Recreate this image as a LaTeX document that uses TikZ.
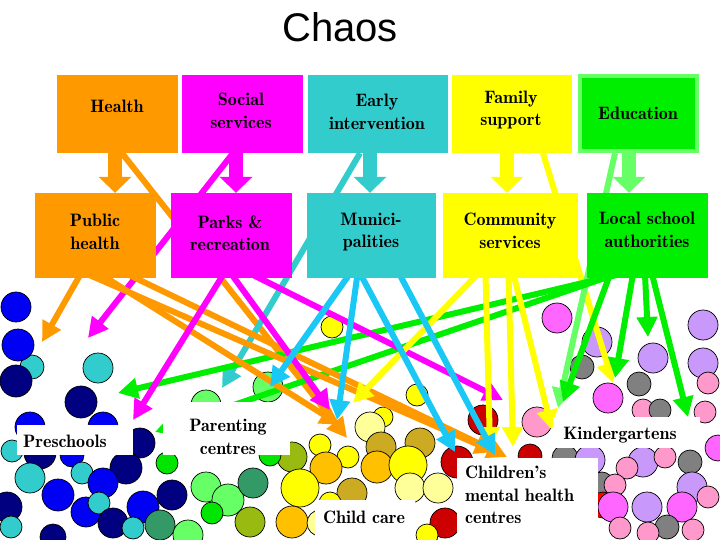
\documentclass[tikz,border=0pt]{standalone}
\usepackage{fontspec}
\newfontfamily\titlefont{Liberation Sans}
\newfontfamily\demifont{lmromandemi10-regular.otf}
\usetikzlibrary{arrows.meta}
\definecolor{cOrange}{RGB}{255,153,0}
\definecolor{cMag}{RGB}{255,0,255}
\definecolor{cTeal}{RGB}{51,204,204}
\definecolor{cCyan}{RGB}{25,200,245}
\definecolor{cYel}{RGB}{255,255,0}
\definecolor{cGreen}{RGB}{0,238,0}
\definecolor{cLGreen}{RGB}{102,255,102}
\definecolor{kBlue}{RGB}{0,0,245}
\definecolor{kNavy}{RGB}{0,0,128}
\definecolor{kTeal}{RGB}{51,204,204}
\definecolor{kDGreen}{RGB}{51,153,102}
\definecolor{kGreen}{RGB}{0,230,0}
\definecolor{kLGreen}{RGB}{102,255,102}
\definecolor{kOlive}{RGB}{153,187,17}
\definecolor{kYel}{RGB}{255,255,0}
\definecolor{kGold}{RGB}{255,192,0}
\definecolor{kDGold}{RGB}{204,170,34}
\definecolor{kLYel}{RGB}{255,255,153}
\definecolor{kDRed}{RGB}{204,0,0}
\definecolor{kRed}{RGB}{255,0,0}
\definecolor{kViolet}{RGB}{255,102,255}
\definecolor{kLav}{RGB}{200,153,250}
\definecolor{kPink}{RGB}{255,153,204}
\definecolor{kGray}{RGB}{128,128,128}
\newcommand\blob[4]{\filldraw[fill=#1,draw=black,line width=0.7pt] (#2,#3) circle[radius=#4pt];}
\begin{document}
\begin{tikzpicture}[x=1pt,y=-1pt,
  box/.style={inner sep=0pt, draw=none, minimum height=#1},
  lbl/.style={inner sep=0pt, align=center, font=\demifont\fontsize{18}{22.5}\selectfont},
  wbox/.style={fill=white, inner sep=0pt, draw=none},
  arr/.style={line width=6pt, draw=#1, -{Triangle[length=20pt,width=20pt]}},
  blk/.style={line width=14pt, draw=#1, -{Triangle[length=16pt,width=32pt]}}
]
\useasboundingbox (0,0) rectangle (720,540);
\fill[white] (0,0) rectangle (720,540);

% ---------- circles ----------
% preschools
\blob{kTeal}{32}{367}{12}
\blob{kBlue}{16}{307}{15}
\blob{kBlue}{18}{345}{16}
\blob{kNavy}{16}{381}{16}
\blob{kTeal}{98}{368}{15}
\blob{kNavy}{81}{402}{16}
\blob{kBlue}{30}{427}{15}
\blob{kBlue}{103}{427}{15}
\blob{kNavy}{140}{443}{15}
\blob{kNavy}{40}{453}{16}
\blob{kBlue}{72}{455}{12}
\blob{kTeal}{12}{451}{11}
\blob{kTeal}{30}{478}{15}
\blob{kTeal}{82}{473}{11}
\blob{kNavy}{126}{468}{16}
\blob{kBlue}{103}{483}{15}
\blob{kBlue}{58}{495}{16}
\blob{kNavy}{7}{507}{15}
\blob{kBlue}{86}{512}{15}
\blob{kTeal}{99}{503}{11}
\blob{kNavy}{172}{495}{15}
\blob{kBlue}{143}{507}{16}
\blob{kNavy}{113}{523}{15}
\blob{kTeal}{11}{527}{11}
\blob{kTeal}{133}{528}{11}
\blob{kNavy}{53}{537}{13}
\blob{kDGreen}{160}{525}{15}
% parenting
\blob{kGreen}{167}{463}{11}
\blob{kLGreen}{206}{405}{15}
\blob{kLGreen}{268}{387}{15}
\blob{kLGreen}{206}{487}{15}
\blob{kLGreen}{228}{500}{16}
\blob{kGreen}{212}{513}{11}
\blob{kLGreen}{188}{535}{15}
\blob{kDGreen}{253}{483}{15}
\blob{kOlive}{292}{457}{15}
\blob{kGreen}{270}{455}{11}
\blob{kOlive}{250}{522}{15}
% child care
\blob{kYel}{332}{327}{11}
\blob{kYel}{417}{395}{11}
\blob{kYel}{383}{417}{10}
\blob{kLYel}{370}{427}{15}
\blob{kDRed}{483}{420}{15}
\blob{kYel}{320}{445}{11}
\blob{kDGold}{381}{447}{15}
\blob{kDGold}{420}{443}{15}
\blob{kYel}{348}{457}{11}
\blob{kGold}{326}{468}{16}
\blob{kGold}{377}{467}{16}
\blob{kYel}{408}{465}{19}
\blob{kDRed}{457}{462}{16}
\blob{kDRed}{530}{456}{12}
\blob{kYel}{300}{488}{19}
\blob{kDGold}{352}{493}{15}
\blob{kLYel}{410}{488}{15}
\blob{kLYel}{438}{488}{15}
\blob{kYel}{330}{503}{11}
\blob{kGold}{292}{522}{16}
\blob{kLYel}{320}{523}{13}
\blob{kDRed}{445}{523}{15}
\blob{kYel}{427}{535}{11}
% kindergartens
\blob{kViolet}{557}{318}{15}
\blob{kGray}{582}{367}{12}
\blob{kLav}{597}{342}{15}
\blob{kLav}{653}{358}{15}
\blob{kViolet}{608}{398}{15}
\blob{kGray}{639}{384}{12}
\blob{kPink}{643}{410}{11}
\blob{kGray}{660}{410}{11}
\blob{kPink}{537}{422}{15}
\blob{kLav}{703}{325}{15}
\blob{kLav}{703}{363}{15}
\blob{kPink}{708}{383}{11}
\blob{kPink}{705}{412}{11}
\blob{kViolet}{718}{448}{13}
\blob{kGray}{565}{458}{13}
\blob{kLav}{590}{460}{15}
\blob{kLav}{643}{462}{15}
\blob{kPink}{665}{457}{11}
\blob{kGray}{690}{462}{12}
\blob{kPink}{627}{468}{11}
\blob{kLav}{692}{487}{15}
\blob{kPink}{708}{497}{11}
\blob{kGray}{602}{483}{11}
\blob{kPink}{615}{485}{11}
\blob{kRed}{603}{505}{13}
\blob{kViolet}{613}{507}{15}
\blob{kLav}{647}{507}{15}
\blob{kViolet}{682}{507}{15}
\blob{kGray}{667}{527}{12}
\blob{kPink}{620}{528}{11}
\blob{kPink}{648}{533}{11}
\blob{kPink}{693}{530}{11}

% ---------- boxes (placed, drawn later) ----------
\path
 (117.5,114) node[box=78pt, minimum width=121pt] (health) {}
 (242.5,114) node[box=78pt, minimum width=121pt] (social) {}
 (378,114) node[box=78pt, minimum width=140pt] (early) {}
 (512,114) node[box=78pt, minimum width=120pt] (family) {}
 (638.5,113.5) node[box=79pt, minimum width=121pt] (educ) {}
 (95.5,235.5) node[box=85pt, minimum width=121pt] (ph) {}
 (231.5,235.5) node[box=85pt, minimum width=121pt] (parks) {}
 (371.5,235.5) node[box=85pt, minimum width=129pt] (muni) {}
 (510.5,235.5) node[box=85pt, minimum width=135pt] (comm) {}
 (647.5,235.5) node[box=85pt, minimum width=121pt] (lsa) {};

% ---------- arrow tips ----------
\coordinate (tD1) at (347,438);
\coordinate (tD2) at (88,338);
\coordinate (tD3) at (222,388);
\coordinate (tD4) at (613,383);
\coordinate (tD5) at (558,408);
\coordinate (tO1) at (42,342);
\coordinate (tO2) at (340,425);
\coordinate (tO3) at (507,457);
\coordinate (tO4) at (495,452);
\coordinate (tM1) at (133,420);
\coordinate (tM2) at (330,410);
\coordinate (tM3) at (503,400);
\coordinate (tC1) at (270,387);
\coordinate (tC2) at (337,420);
\coordinate (tC3) at (455,452);
\coordinate (tC4) at (495,455);
\coordinate (tY1) at (353,403);
\coordinate (tY2) at (490,447);
\coordinate (tY3) at (513,447);
\coordinate (tY4) at (552,430);
\coordinate (tG1) at (118,393);
\coordinate (tG2) at (155,432);
\coordinate (tE1) at (563,402);
\coordinate (tE2) at (615,378);
\coordinate (tE3) at (648,337);
\coordinate (tE4) at (688,417);

% ---------- connectors ----------
\draw[arr=cOrange] ([xshift=4.5pt]health.south) -- (tD1);
\draw[arr=cMag] ([xshift=-9.5pt]social.south) -- (tD2);
\draw[arr=cTeal] ([xshift=-18pt]early.south) -- (tD3);
\draw[arr=cYel] ([xshift=31pt]family.south) -- (tD4);
\draw[arr=cLGreen] ([xshift=-23.5pt]educ.south) -- (tD5);

\draw[arr=cGreen] ([xshift=-27.5pt,yshift=4pt]lsa.south) -- (tG1);
\draw[arr=cGreen] ([xshift=-37.5pt,yshift=2pt]lsa.south) -- (tG2);

\draw[arr=cOrange] ([xshift=-15pt,yshift=4pt]ph.south) -- (tO1);
\draw[arr=cOrange] ([xshift=5pt,yshift=4pt]ph.south) -- (tO2);
\draw[arr=cOrange] ([xshift=-8pt,yshift=4pt]ph.south) -- (tO4);
\draw[arr=cOrange] ([xshift=32pt,yshift=4pt]ph.south) -- (tO3);

\draw[arr=cMag] ([xshift=-8pt,yshift=4pt]parks.south) -- (tM1);
\draw[arr=cMag] ([xshift=0pt,yshift=4pt]parks.south) -- (tM2);
\draw[arr=cMag] ([xshift=20pt,yshift=4pt]parks.south) -- (tM3);

\draw[arr=cYel] ([xshift=-33pt,yshift=4pt]comm.south) -- (tY1);
\draw[arr=cYel] ([xshift=-25pt,yshift=4pt]comm.south) -- (tY2);
\draw[arr=cYel] ([xshift=-2pt,yshift=4pt]comm.south) -- (tY3);
\draw[arr=cYel] ([xshift=3pt,yshift=4pt]comm.south) -- (tY4);

\draw[arr=cCyan] ([xshift=-22pt,yshift=4pt]muni.south) -- (tC1);
\draw[arr=cCyan] ([xshift=-14pt,yshift=4pt]muni.south) -- (tC2);
\draw[arr=cCyan] ([xshift=-11pt,yshift=4pt]muni.south) -- (tC3);
\draw[arr=cCyan] ([xshift=28pt,yshift=4pt]muni.south) -- (tC4);

\draw[arr=cGreen] ([xshift=-37.5pt,yshift=4pt]lsa.south) -- (tE1);
\draw[arr=cGreen] ([xshift=-14.5pt,yshift=4pt]lsa.south) -- (tE2);
\draw[arr=cGreen] ([xshift=-2.5pt,yshift=4pt]lsa.south) -- (tE3);
\draw[arr=cGreen] ([xshift=4.5pt,yshift=4pt]lsa.south) -- (tE4);

% ---------- box fills ----------
\fill[cOrange] (health.north west) rectangle (health.south east);
\fill[cMag] (social.north west) rectangle (social.south east);
\fill[cTeal] (early.north west) rectangle (early.south east);
\fill[cYel] (family.north west) rectangle (family.south east);
\fill[cLGreen] (educ.north west) rectangle (educ.south east);
\fill[cGreen] ([xshift=4.5pt,yshift=-4.5pt]educ.north west) rectangle ([xshift=-4.5pt,yshift=4.5pt]educ.south east);
\fill[cOrange] (ph.north west) rectangle (ph.south east);
\fill[cMag] (parks.north west) rectangle (parks.south east);
\fill[cTeal] (muni.north west) rectangle (muni.south east);
\fill[cYel] (comm.north west) rectangle (comm.south east);
\fill[cGreen] (lsa.north west) rectangle (lsa.south east);

% ---------- block arrows ----------
\draw[blk=cOrange] ([xshift=-2.5pt]health.south) -- ([xshift=19.5pt]ph.north);
\draw[blk=cMag] ([xshift=-6.5pt]social.south) -- ([xshift=4.5pt]parks.north);
\draw[blk=cTeal] ([xshift=-8pt]early.south) -- ([xshift=-1.5pt]muni.north);
\draw[blk=cYel] ([xshift=-5pt]family.south) -- ([xshift=-3.5pt]comm.north);
\draw[blk=cLGreen] ([xshift=-9.5pt]educ.south) -- ([xshift=-18.5pt]lsa.north);

% ---------- box texts ----------
\node[lbl] (healthT) at (117,106) {Health};
\node[lbl] (socialT) at (241,111) {Social\\services};
\node[lbl] (earlyT) at (377,112) {Early\\intervention};
\node[lbl] (familyT) at (511,110) {Family\\support};
\node[lbl] (educT) at (638,113) {Education};
\node[lbl] (phT) at (95,232) {Public\\health};
\node[lbl] (parksT) at (230,233) {Parks \&\\recreation};
\node[lbl] (muniT) at (371,232) {Munici-\\palities};
\node[lbl] (commT) at (510,231) {Community\\services};
\node[lbl] (lsaT) at (647,230) {Local school\\authorities};

% ---------- title ----------
\node[inner sep=0pt, font=\titlefont\fontsize{40}{44}\selectfont] (title) at (340,27) {Chaos};

% ---------- cluster labels ----------
\node[wbox, minimum width=116pt, minimum height=30pt] (preB) at (75,440) {};
\node[lbl] (preT) at (65,441) {Preschools};
\node[wbox, minimum width=127pt, minimum height=53pt] (parB) at (226.5,428.5) {};
\node[lbl] (parT) at (228,437) {Parenting\\centres};
\node[wbox, minimum width=100pt, minimum height=40pt] (ccB) at (365,520) {};
\node[lbl] (ccT) at (364,517) {Child care};
\node[wbox, minimum width=141pt, minimum height=82pt] (chB) at (527.5,499) {};
\node[lbl, align=left, anchor=west] (chT) at (465,495) {Children’s\\mental health\\centres};
\node[wbox, minimum width=147pt, minimum height=31pt] (kiB) at (626.5,432.5) {};
\node[lbl] (kiT) at (620,435) {Kindergartens};
\end{tikzpicture}
\end{document}
